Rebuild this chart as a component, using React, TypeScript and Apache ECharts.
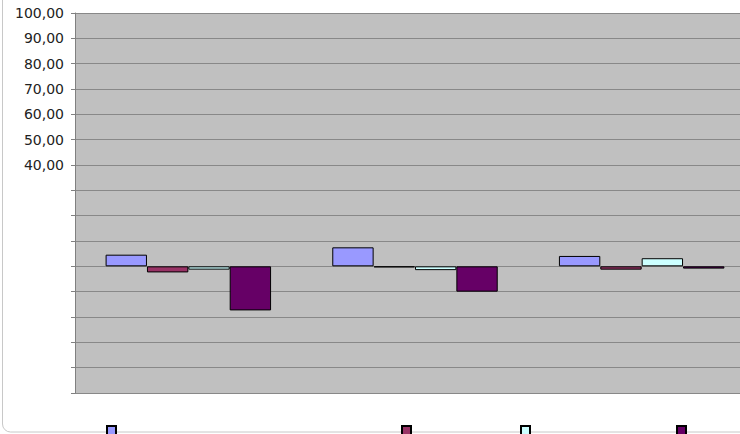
import React, { useEffect, useRef } from "react";
import * as echarts from "echarts";

const categories = ["1", "2", "3"];
const seriesNames = ["A", "B", "C", "D"];
const seriesColors = ["#9999ff", "#993366", "#ccffff", "#660066"];
const seriesA = [4.6, 7.5, 4.1];
const seriesB = [-2.4, -0.4, -1.3];
const seriesC = [-1.3, -1.5, 3.2];
const seriesD = [-17.4, -10.0, -0.9];
const seriesValues = [seriesA, seriesB, seriesC, seriesD];
const legendLefts = [106, 401, 520, 676];

export default function App() {
  const ref = useRef<HTMLDivElement>(null);
  useEffect(() => {
    if (!ref.current) return;
    const chart = echarts.init(ref.current, null, { renderer: "svg" });
    chart.setOption({
      animation: false,
      backgroundColor: "#ffffff",
      grid: {
        left: 75,
        right: 0,
        top: 13,
        bottom: 41,
        show: true,
        backgroundColor: "#c0c0c0",
        borderWidth: 0,
      },
      legend: seriesNames.map((n, i) => ({
        data: [n],
        left: legendLefts[i],
        top: 425,
        icon: "rect",
        itemWidth: 9,
        itemHeight: 9,
        padding: 0,
        formatter: () => "",
        selectedMode: false,
      })),
      xAxis: {
        type: "category",
        data: categories,
        axisLine: { show: false },
        axisTick: { show: false },
        axisLabel: { show: false },
        splitLine: { show: false },
      },
      yAxis: {
        type: "value",
        min: -50,
        max: 100,
        interval: 10,
        axisLine: { show: true, lineStyle: { color: "#808080", width: 1 } },
        axisTick: { show: true, length: 4, lineStyle: { color: "#808080" } },
        axisLabel: {
          margin: 11,
          color: "#222222",
          fontFamily: "DejaVu Sans",
          fontSize: 14,
          formatter: (v: number) => (v >= 40 ? v.toFixed(2).replace(".", ",") : ""),
        },
        splitLine: { show: true, lineStyle: { color: "#888888", width: 1 } },
      },
      graphic: [
        {
          type: "rect",
          shape: { x: 2.5, y: -20, width: 780, height: 452, r: 8 },
          style: { fill: "none", stroke: "#c8c8c8", lineWidth: 1 },
          silent: true,
          z: -1,
        },
      ],
      series: seriesNames.map((n, i) => ({
        name: n,
        type: "bar",
        data: seriesValues[i],
        barGap: 0,
        barCategoryGap: "27%",
        itemStyle: {
          color: seriesColors[i],
          borderColor: "#000000",
          borderWidth: 1,
        },
      })),
    });
    return () => chart.dispose();
  }, []);
  return (
    <div
      style={{
        position: "absolute",
        left: 0,
        top: 0,
        width: 740,
        height: 434,
        overflow: "hidden",
      }}
    >
      <div ref={ref} style={{ width: 755, height: 434 }} />
    </div>
  );
}
